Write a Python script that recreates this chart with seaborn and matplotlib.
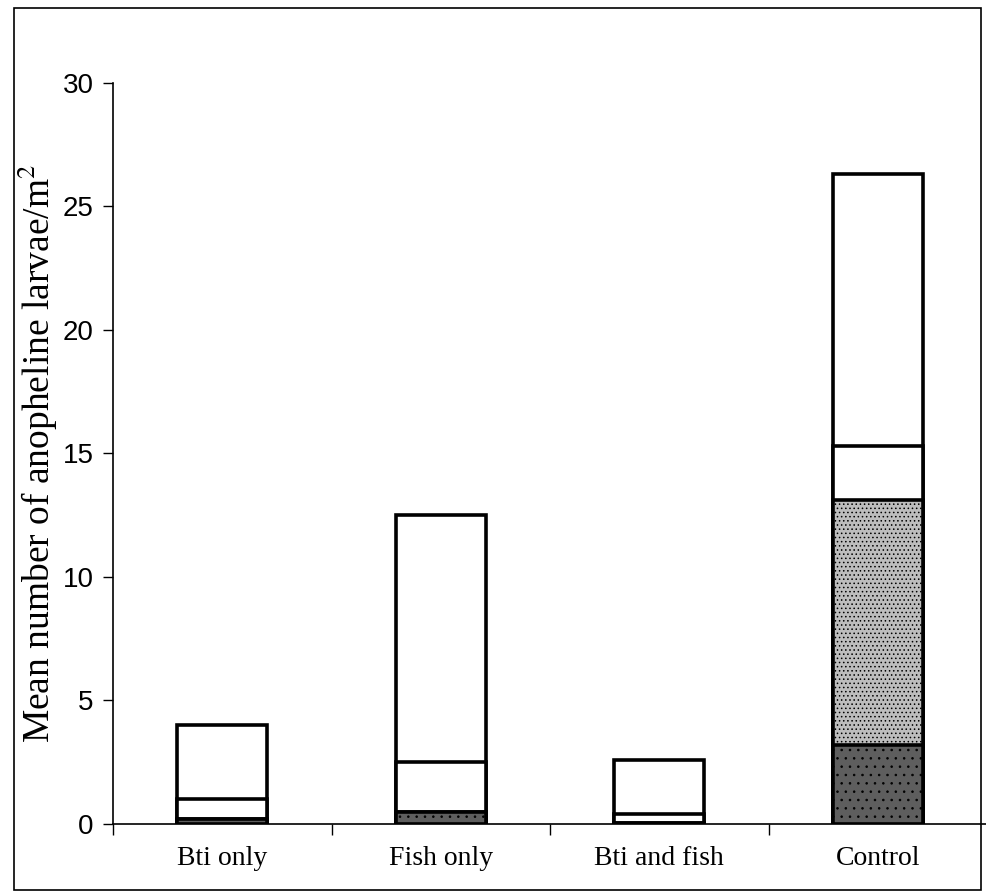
import matplotlib
matplotlib.use("Agg")
import matplotlib.pyplot as plt
import seaborn as sns
import numpy as np
import pandas as pd
from matplotlib.patches import Rectangle
from matplotlib.ticker import FixedLocator

# categories and stacked segment values (bottom to top)
categories = ["Bti only", "Fish only", "Bti and fish", "Control"]
dark_seg = [0.2, 0.5, 0.05, 3.2]      # dark speckled
dotted_seg = [0.0, 0.0, 0.0, 9.9]     # grey dotted
white_seg = [0.8, 2.0, 0.35, 2.2]     # plain white
light_seg = [3.0, 10.0, 2.2, 11.0]    # light speckled (top)
yticks = [0, 5, 10, 15, 20, 25, 30]

sns.set_style("white")
plt.rcParams["hatch.linewidth"] = 0.6
plt.rcParams["mathtext.fontset"] = "stix"
for k in ["text.color", "axes.labelcolor", "xtick.color", "ytick.color"]:
    plt.rcParams[k] = "black"

df = pd.DataFrame({"cat": categories, "dark": dark_seg, "dotted": dotted_seg,
                   "white": white_seg, "light": light_seg})
df["c1"] = df["dark"]
df["c2"] = df["c1"] + df["dotted"]
df["c3"] = df["c2"] + df["white"]
df["c4"] = df["c3"] + df["light"]

fig = plt.figure(figsize=(9.87, 8.96), dpi=100)
ax = fig.add_axes([0.1145, 0.0804, 0.8855, 0.827])

# draw tallest cumulative layer first so lower layers sit on top
layers = [("c4", "white", None), ("c3", "white", None),
          ("c2", "#bdbdbd", "...."), ("c1", "#5e5e5e", "..")]
for col, face, hatch in layers:
    sns.barplot(data=df, x="cat", y=col, ax=ax, color=face, width=0.41,
                edgecolor="black", linewidth=2.6, hatch=hatch, saturation=1)

ax.set_xlim(-0.5, 3.5)
ax.set_ylim(0, 30)
ax.set_yticks(yticks)
ax.set_yticklabels([str(t) for t in yticks], fontsize=20, family="Liberation Sans")
ax.set_xticks(range(len(categories)))
ax.set_xticklabels(categories, fontsize=20, family="Liberation Serif")
ax.xaxis.set_minor_locator(FixedLocator([-0.5, 0.5, 1.5, 2.5]))
ax.tick_params(axis="x", which="major", length=0, pad=16)
ax.tick_params(axis="x", which="minor", length=8, width=1, direction="out", bottom=True)
ax.tick_params(axis="y", which="major", length=7, width=1, direction="out", left=True, pad=7)

ax.set_xlabel("")
ax.set_ylabel("Mean number of anopheline larvae/m$^2$", fontsize=27,
              family="Liberation Serif", labelpad=2)

sns.despine(ax=ax, top=True, right=True)
for s in ["left", "bottom"]:
    ax.spines[s].set_color("black")
    ax.spines[s].set_linewidth(1.2)

# outer frame of the original figure
fig.patches.append(Rectangle((14 / 987, 1 - 890 / 896), (981 - 14) / 987, (890 - 8) / 896,
                             transform=fig.transFigure, fill=False,
                             edgecolor="black", linewidth=1.2))

fig.savefig("out.png", dpi=100)
